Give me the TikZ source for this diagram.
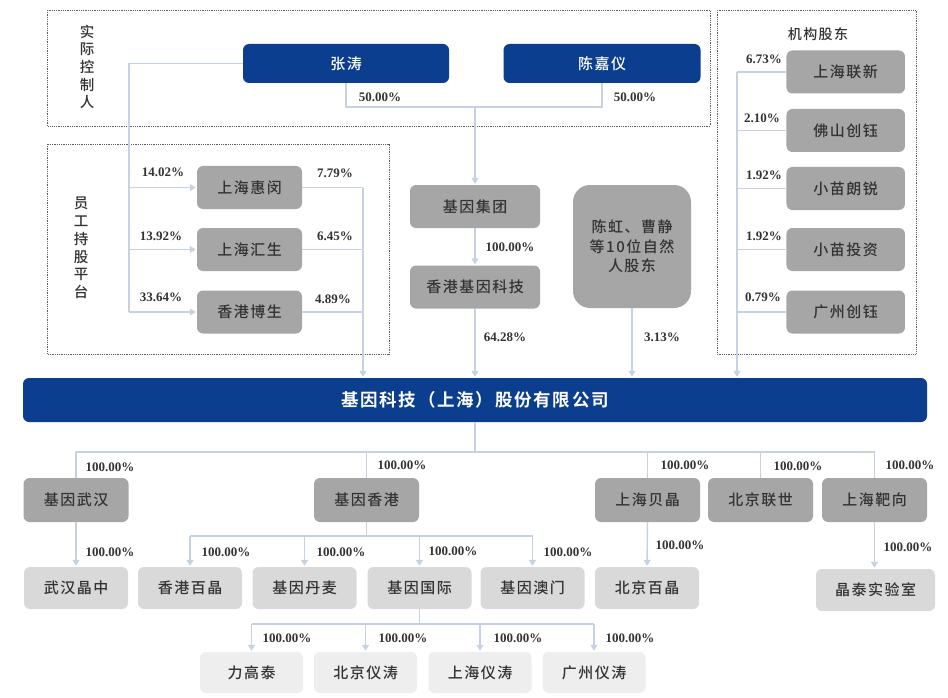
\documentclass[tikz,border=0pt]{standalone}
\usepackage{fontspec}
\setmainfont{Liberation Serif}
\newfontfamily\cjk[LetterSpace=10,BoldFont={Noto Sans CJK SC Bold}]{Noto Sans CJK SC Medium}
\usetikzlibrary{shapes,arrows.meta,positioning}
\definecolor{navy}{HTML}{0B3E8E}
\definecolor{greyA}{HTML}{A6A6A6}
\definecolor{greyB}{HTML}{D9D9D9}
\definecolor{greyC}{HTML}{EEEEEE}
\definecolor{linec}{HTML}{C6D2E1}
\definecolor{ink}{HTML}{333333}
\tikzstyle{person} = [fill=navy,rounded corners=6pt,inner sep=0,minimum height=39pt,text=white,font=\cjk\fontsize{15}{18}\selectfont]
\tikzstyle{holder} = [fill=greyA,rounded corners=6pt,inner sep=0,minimum width=\bw,minimum height=\bh,text=ink,font=\cjk\fontsize{15}{18}\selectfont]
\tikzstyle{subA} = [holder]
\tikzstyle{subB} = [holder,fill=greyB]
\tikzstyle{subC} = [holder,fill=greyC,minimum height=41pt]
\tikzstyle{pct} = [inner sep=0,text=ink,font=\bfseries\fontsize{13}{15}\selectfont]
\tikzstyle{side} = [inner sep=0,align=center,text=ink,font=\cjk\fontsize{14.5}{17.7}\selectfont]
\tikzstyle{frame} = [draw=ink!80,densely dotted,line width=.8pt]
\tikzstyle{link} = [-,draw=linec,line width=1.4pt]
\tikzstyle{arr} = [link,-{Triangle[width=7pt,length=6pt]},shorten >=1pt]
\def \bw {105pt}
\def \bh {43pt}

\begin{document}
\begin{tikzpicture}[x=1pt,y=-1pt]
  \useasboundingbox[fill=white] (0,0) rectangle (948,698);
  % dotted frames
  \draw[frame] (47.5,10) rectangle (710,126);
  \draw[frame] (47.5,144) rectangle (389,354);
  \draw[frame] (717,10) rectangle (916,354);
  \node[side] (ctrl) at (87,67) {实\\际\\控\\制\\人};
  \node[side] (esop) at (81,248) {员\\工\\持\\股\\平\\台};
  \node[side,font=\cjk\fontsize{14}{17}\selectfont] (inst) at (818,34) {机构股东};

  % actual controllers
  \node[person,minimum width=206pt] (zt) at (346,63.5) {张涛};
  \node[person,minimum width=197pt] (cjy) at (602,63.5) {陈嘉仪};

  % employee platforms
  \node[holder] (shhm) at (249.5,187.5) {上海惠闵};
  \node[holder] (shhs) at (249.5,249.5) {上海汇生};
  \node[holder] (hkbs) at (249.5,312) {香港博生};

  % group
  \node[holder,minimum width=130pt] (jtjt) at (475,206.5) {基因集团};
  \node[holder,minimum width=130pt] (hkjy) at (475,287) {香港基因科技};
  \node[holder,minimum width=118pt,minimum height=123pt,rounded corners=17pt,align=center,
        font=\cjk\fontsize{15}{19.5}\selectfont] (zrr) at (632,246.5) {陈虹、曹静\\等10位自然\\人股东};

  % institutions
  \node[holder,minimum width=118.5pt] (shlx) at (845.7,72) {上海联新};
  \node[holder,minimum width=118.5pt] (fscy) at (845.7,130.5) {佛山创钰};
  \node[holder,minimum width=118.5pt] (xmlr) at (845.7,188.5) {小苗朗锐};
  \node[holder,minimum width=118.5pt] (xmtz) at (845.7,249.5) {小苗投资};
  \node[holder,minimum width=118.5pt] (gzcy) at (845.7,312) {广州创钰};

  % company
  \node[person,minimum width=904pt,minimum height=44pt,
        font=\cjk\bfseries\fontsize{17.5}{20}\selectfont] (main) at (475,400) {基因科技（上海）股份有限公司};

  % first level
  \node[subA,minimum height=44pt] (gwh) at (76,500) {基因武汉};
  \node[subA,minimum height=44pt] (ghk) at (366.5,500) {基因香港};
  \node[subA,minimum height=44pt] (shbj) at (647.5,500) {上海贝晶};
  \node[subA,minimum height=44pt] (bjls) at (760.5,500) {北京联世};
  \node[subA,minimum height=44pt] (shbx) at (874.5,500) {上海靶向};

  % second level
  \node[subB,minimum width=104pt,minimum height=42pt] (whjz) at (76,588) {武汉晶中};
  \node[subB,minimum width=104pt,minimum height=42pt] (hkbj) at (190,588) {香港百晶};
  \node[subB,minimum width=104pt,minimum height=42pt] (gdm) at (304.5,588) {基因丹麦};
  \node[subB,minimum width=104pt,minimum height=42pt] (ggj) at (419.5,588) {基因国际};
  \node[subB,minimum width=104pt,minimum height=42pt] (gam) at (532.5,588) {基因澳门};
  \node[subB,minimum width=104pt,minimum height=42pt] (bjbj) at (647,588) {北京百晶};
  \node[subB,minimum width=119pt,minimum height=42pt] (jtsys) at (875.5,590) {晶泰实验室};

  % third level
  \node[subC,minimum width=103pt] (lgt) at (251.5,672.5) {力高泰};
  \node[subC,minimum width=103pt] (bjyt) at (365.5,672.5) {北京仪涛};
  \node[subC,minimum width=103pt] (shyt) at (480,672.5) {上海仪涛};
  \node[subC,minimum width=103pt] (gzyt) at (594,672.5) {广州仪涛};

  % controllers -> group
  \coordinate (j1) at (475,107);
  \draw[link] (zt.south) |- (j1) -| (cjy.south);
  \draw[arr] (j1) -- (jtjt.north);
  \draw[arr] (jtjt.south) -- (hkjy.north);
  \draw[arr] (hkjy.south) -- (hkjy.south |- main.north);
  \draw[arr] (zrr.south) -- (zrr.south |- main.north);

  % controller -> employee platforms -> company
  \coordinate (ej) at (129,312);
  \draw[link] (zt.west) -| (ej);
  \foreach \n in {shhm,shhs,hkbs}
    \draw[arr] (ej |- \n.west) -- (\n.west);
  \coordinate (er) at (363,187.5);
  \foreach \n in {shhm,shhs,hkbs}
    \draw[link] (\n.east) -- (er |- \n.east);
  \draw[arr] (er) -- (er |- main.north);

  % institutions -> company
  \coordinate (ij) at (737,72);
  \foreach \n in {shlx,fscy,xmlr,xmtz,gzcy}
    \draw[link] (\n.west) -- (ij |- \n.west);
  \draw[arr] (ij) -- (ij |- main.north);

  % company -> first level
  \coordinate (b1) at (475,452);
  \draw[link] (main.south) -- (b1);
  \draw[link] (b1 -| gwh.north) -- (b1 -| shbx.north);
  \foreach \n in {gwh,ghk,shbj,bjls,shbx}
    \draw[link] (b1 -| \n.north) -- (\n.north);

  % first -> second level
  \draw[arr] (gwh.south) -- (whjz.north);
  \coordinate (b2) at (366.5,536);
  \draw[link] (ghk.south) -- (b2);
  \draw[link] (b2 -| hkbj.north) -- (b2 -| gam.north);
  \foreach \n in {hkbj,gdm,ggj,gam}
    \draw[arr] (b2 -| \n.north) -- (\n.north);
  \draw[arr] (shbj.south) -- (bjbj.north);
  \draw[arr] (shbx.south) -- (shbx.south |- jtsys.north);

  % second -> third level
  \coordinate (b3) at (419.5,624);
  \draw[link] (ggj.south) -- (b3);
  \draw[link] (b3 -| lgt.north) -- (b3 -| gzyt.north);
  \foreach \n in {lgt,bjyt,shyt,gzyt}
    \draw[arr] (b3 -| \n.north) -- (\n.north);

  % shares
  \node[pct] (p1) at (380,97) {50.00\%};
  \node[pct] (p2) at (635,97) {50.00\%};
  \node[pct] (p3) at (163,172) {14.02\%};
  \node[pct] (p4) at (161,236) {13.92\%};
  \node[pct] (p5) at (161,297) {33.64\%};
  \node[pct] (p6) at (335,173) {7.79\%};
  \node[pct] (p7) at (335,236) {6.45\%};
  \node[pct] (p8) at (333,299) {4.89\%};
  \node[pct] (p9) at (510,247) {100.00\%};
  \node[pct] (p10) at (505,337) {64.28\%};
  \node[pct] (p11) at (662,337) {3.13\%};
  \node[pct] (p12) at (764,59) {6.73\%};
  \node[pct] (p13) at (762,118) {2.10\%};
  \node[pct] (p14) at (764,175) {1.92\%};
  \node[pct] (p15) at (764,236) {1.92\%};
  \node[pct] (p16) at (763,297) {0.79\%};
  \node[pct] (p17) at (110,467) {100.00\%};
  \node[pct] (p18) at (402,465) {100.00\%};
  \node[pct] (p19) at (685,465) {100.00\%};
  \node[pct] (p20) at (798,466) {100.00\%};
  \node[pct] (p21) at (910,465) {100.00\%};
  \node[pct] (p22) at (110,552) {100.00\%};
  \node[pct] (p23) at (226,552) {100.00\%};
  \node[pct] (p24) at (341,552) {100.00\%};
  \node[pct] (p25) at (453,551) {100.00\%};
  \node[pct] (p26) at (568,552) {100.00\%};
  \node[pct] (p27) at (680,545) {100.00\%};
  \node[pct] (p28) at (908,547) {100.00\%};
  \node[pct] (p29) at (287,638) {100.00\%};
  \node[pct] (p30) at (403,638) {100.00\%};
  \node[pct] (p31) at (518,638) {100.00\%};
  \node[pct] (p32) at (630,638) {100.00\%};
\end{tikzpicture}
\end{document}
